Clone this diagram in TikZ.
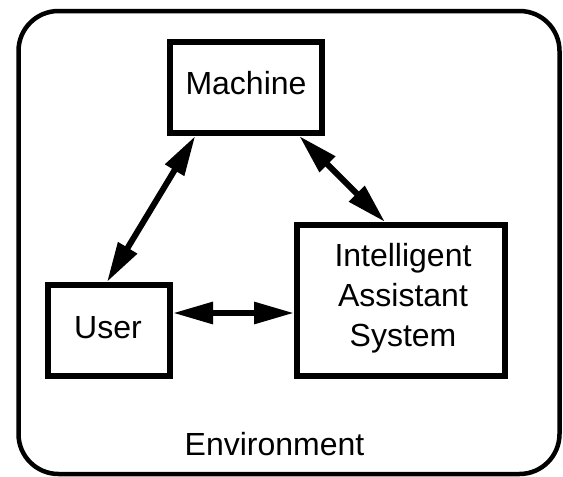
\documentclass[tikz,border=0pt]{standalone}
\usepackage{fontspec}
\setmainfont{Liberation Sans}
\usetikzlibrary{arrows.meta}
\begin{document}
\begin{tikzpicture}[x=1pt,y=-1pt,
  box/.style={draw=black, line width=6pt, inner sep=0pt},
  txt/.style={inner sep=0pt, font=\fontsize{32}{40}\selectfont, align=center},
  dbl/.style={line width=6pt, {Triangle[length=40pt,width=21pt]}-{Triangle[length=40pt,width=21pt]}}]
\useasboundingbox (0,0) rectangle (563,477);
\draw[line width=4.5pt, rounded corners=40pt] (18.5,11) rectangle (559.5,474);
\node[box, minimum width=152.5pt, minimum height=91pt] (machine) at (246,87.5) {};
\node[box, minimum width=122pt, minimum height=91pt] (user) at (109,330.5) {};
\node[box, minimum width=208pt, minimum height=151pt] (ias) at (401,300.5) {};
\node[txt, anchor=base] (mtext) at (246,94) {Machine};
\node[txt, anchor=base] (utext) at (108,338) {User};
\node[txt] (itext) at (403,298.7) {Intelligent\\Assistant\\System};
\node[txt, anchor=base] (etext) at (274.5,455) {Environment};
\coordinate (uTop) at ([xshift=-2pt]user.north);
\coordinate (mLeft) at ([xshift=28.5pt]machine.south west);
\coordinate (mRight) at ([xshift=-26pt]machine.south east);
\coordinate (iTop) at ([xshift=91pt]ias.north west);
\coordinate (uRight) at ([yshift=17.5pt]user.east);
\coordinate (iLeft) at (ias.west |- uRight);
\draw[dbl] (uTop) -- (mLeft);
\draw[dbl] (mRight) -- (iTop);
\draw[dbl] (uRight) -- (iLeft);
\end{tikzpicture}
\end{document}
